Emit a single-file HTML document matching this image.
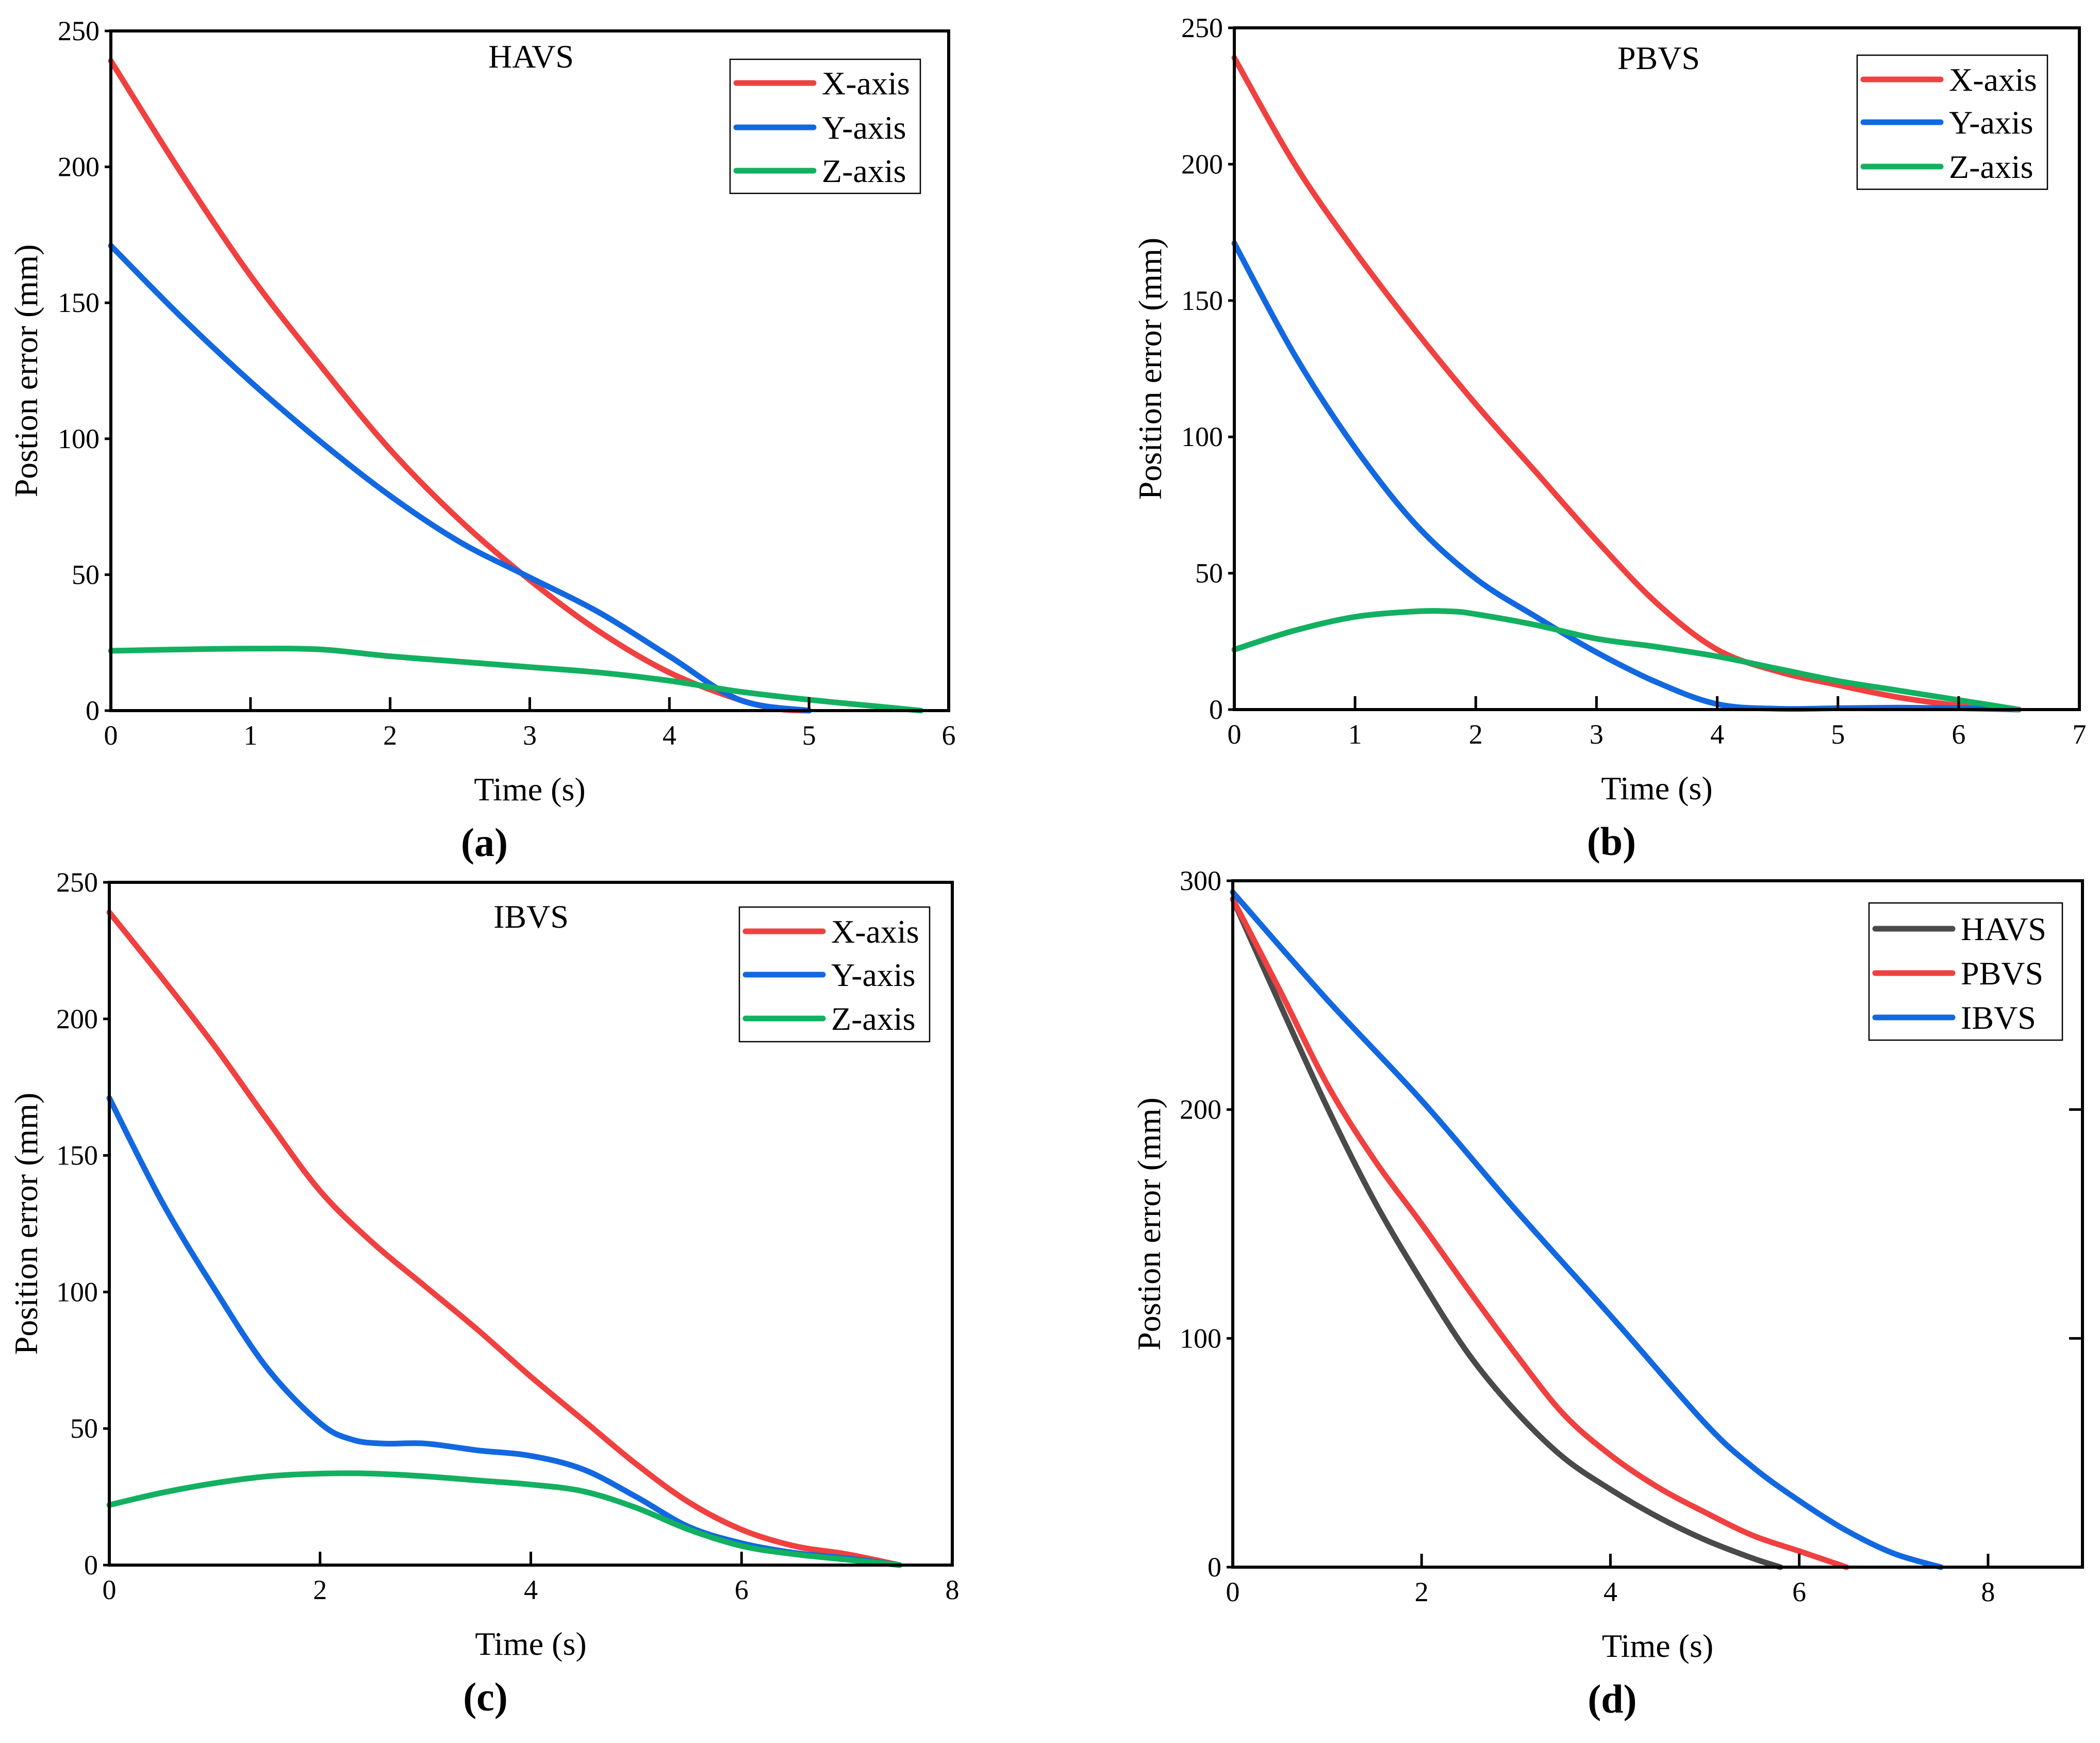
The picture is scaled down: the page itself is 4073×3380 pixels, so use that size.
<!DOCTYPE html>
<html><head><meta charset="utf-8"><style>
html,body{margin:0;padding:0;background:#fff}
svg{display:block}
text{font-family:"Liberation Serif",serif;fill:#000}
</style></head><body>
<svg id="fig" width="4073" height="3380" viewBox="0 0 4073 3380"></svg>
<script>
// ---- data ----
const aX_t=[0,0.5,1,1.5,2,2.5,3,3.5,4,4.5,4.8,5];
const aX_v=[239,198,160,127,96,70,48,29,14,4,0.5,0];
const aY_t=[0,0.5,1,1.5,2,2.5,3,3.5,4,4.5,5];
const aY_v=[171,145,121,99,79,62,49,36,20,4,0];
const aZ_t=[0,0.5,1,1.5,2,2.5,3,3.5,4,4.5,5,5.5,5.8];
const aZ_v=[22,22.5,22.8,22.5,20,18,16,14,11,7,4,1.5,0];

const bX_t=[0,0.5,1,1.5,2,2.5,3,3.5,4,4.5,5,5.5,6,6.3];
const bX_v=[239,200,168,139,112,87,62,39,22,14,9,4.5,1.5,0.5];
const bY_t=[0,0.5,1,1.5,2,2.5,3,3.5,4,4.5,5,5.5,6,6.5];
const bY_v=[171,130,96,68,48,34,21,10,2,0.3,0.5,0.7,0.5,0];
const bZ_t=[0,0.5,1,1.5,1.8,2,2.5,3,3.5,4,4.5,5,5.5,6,6.5];
const bZ_v=[22,29,34,36,36,35,31,26,23,19.5,15,10.5,7,3.5,0];

const cX_t=[0,0.5,1,1.5,2,2.5,3,3.5,4,4.5,5,5.5,6,6.5,7,7.5];
const cX_v=[239,215,190,163,137,118,102,86,69,53,37,23,13,7,4,0];
const cY_t=[0,0.5,1,1.5,2,2.3,2.6,3,3.5,4,4.5,5,5.5,6,6.5,7,7.5];
const cY_v=[171,133,101,72,52,46,44.5,44.5,42,40,35,25,14,8,4.5,2.5,0];
const cZ_t=[0,0.5,1,1.5,2,2.5,3,3.5,4,4.5,5,5.5,6,6.5,7,7.5];
const cZ_v=[22,26.5,30,32.5,33.5,33.5,32.5,31,29.5,27,21,13,7,4,2,0];

const dH_t=[0,0.5,1,1.5,2,2.5,3,3.5,4,4.5,5,5.5,5.8];
const dH_v=[292,246,201,160,125,93,68,48,34,22,12,4,0];
const dP_t=[0,0.5,1,1.5,2,2.5,3,3.5,4,4.5,5,5.5,6,6.5];
const dP_v=[292,252,211,178,150,121,93,67,49,35,24,14,7,0];
const dI_t=[0,1,2,3,4,5,5.5,6,6.5,7,7.5];
const dI_v=[295,248,204,156,110,63,44,29,16,6,0];

const ticksA_x=[0,1,2,3,4,5,6], ticksA_y=[0,50,100,150,200,250];
const ticksB_x=[0,1,2,3,4,5,6,7], ticksB_y=[0,50,100,150,200,250];
const ticksC_x=[0,2,4,6,8], ticksC_y=[0,50,100,150,200,250];
const ticksD_x=[0,2,4,6,8], ticksD_y=[0,100,200,300];

const RED='#f04040', BLUE='#1268e0', GREEN='#12b060', GRAY='#4a4a4a';
const NS='http://www.w3.org/2000/svg';
const svg=document.getElementById('fig');
function el(tag,attrs,parent){const e=document.createElementNS(NS,tag);for(const k in attrs)e.setAttribute(k,attrs[k]);(parent||svg).appendChild(e);return e;}
function smoothPath(pts){
  let d='M'+pts[0][0].toFixed(1)+','+pts[0][1].toFixed(1);
  for(let i=0;i<pts.length-1;i++){
    const p0=pts[i-1]||pts[i],p1=pts[i],p2=pts[i+1],p3=pts[i+2]||p2;
    const c1=[p1[0]+(p2[0]-p0[0])/6,p1[1]+(p2[1]-p0[1])/6];
    const c2=[p2[0]-(p3[0]-p1[0])/6,p2[1]-(p3[1]-p1[1])/6];
    d+=' C'+c1[0].toFixed(1)+','+c1[1].toFixed(1)+' '+c2[0].toFixed(1)+','+c2[1].toFixed(1)+' '+p2[0].toFixed(1)+','+p2[1].toFixed(1);
  }
  return d;
}
function panel(cfg){
  const g=el('g',{});
  
  
  const L=cfg.l,R=cfg.r,T=cfg.t,B=cfg.b;
  const sx=v=>L+(v-cfg.xmin)/(cfg.xmax-cfg.xmin)*(R-L);
  const sy=v=>B-(v-cfg.ymin)/(cfg.ymax-cfg.ymin)*(B-T);
  cfg.series.forEach(s=>{
    const pts=s.t.map((t,i)=>[sx(t),sy(s.v[i])]);
    const p=el('path',{d:smoothPath(pts),fill:'none',stroke:s.color,'stroke-width':11,'stroke-linejoin':'round','stroke-linecap':'round'},g);
    
    
  });
  const f=el('rect',{x:L,y:T,width:R-L,height:B-T,fill:'none',stroke:'#000','stroke-width':6},g);
  
  
  cfg.xt.forEach(v=>{
    const x=sx(v);
    if(v!==cfg.xmin&&v!==cfg.xmax) el('line',{x1:x,x2:x,y1:B,y2:B-26,stroke:'#000','stroke-width':5},g);
    const t=el('text',{x:x,y:B+66,'font-size':54,'text-anchor':'middle'},g);
    t.textContent=v;
    
    
  });
  cfg.yt.forEach(v=>{
    const y=sy(v);
    el('line',{x1:L,x2:L-12,y1:y,y2:y,stroke:'#000','stroke-width':5},g);
    if(cfg.rightTicks&&v!==cfg.ymin&&v!==cfg.ymax) el('line',{x1:R,x2:R-26,y1:y,y2:y,stroke:'#000','stroke-width':5},g);
    const t=el('text',{x:L-22,y:y+18,'font-size':54,'text-anchor':'end'},g);
    t.textContent=v;
    
    
  });
  const xt=el('text',{x:(L+R)/2,y:B+174,'font-size':64,'text-anchor':'middle'},g);
  xt.textContent='Time (s)';
  
  
  const ty=(T+B)/2;
  const yt=el('text',{x:cfg.ytx,y:ty,'font-size':64,'text-anchor':'middle',transform:'rotate(-90 '+cfg.ytx+' '+ty+')'},g);
  yt.textContent=cfg.ytitle;
  
  
  if(cfg.title){
    const tt=el('text',{x:cfg.title[1],y:cfg.title[2]+22,'font-size':64,'text-anchor':'middle'},g);
    tt.textContent=cfg.title[0];
    
    
  }
  const pl=el('text',{x:(L+R)/2-88,y:B+282,'font-size':78,'text-anchor':'middle','font-weight':'bold'},g);
  pl.textContent=cfg.label;
  
  
  const lg=cfg.legend;
  const lgG=el('g',{},g);
  
  
  el('rect',{x:lg.x1,y:lg.y1,width:lg.x2-lg.x1,height:lg.y2-lg.y1,fill:'#fff',stroke:'#000','stroke-width':2.5},lgG);
  cfg.series.forEach((s,i)=>{
    const y=lg.rows[i];
    const e=el('g',{},lgG);
    
    
    el('line',{x1:lg.x1+12,x2:lg.x1+162,y1:y,y2:y,stroke:s.color,'stroke-width':11,'stroke-linecap':'round'},e);
    const t=el('text',{x:lg.x1+178,y:y+22,'font-size':64},e);
    t.textContent=s.label;
  });
}
panel({name:'chart-a-havs',l:215,r:1840,t:60,b:1378,xmin:0,xmax:6,ymin:0,ymax:250,xt:ticksA_x,yt:ticksA_y,
  ytitle:'Postion error (mm)',ytx:72,title:['HAVS',1030,109],label:'(a)',
  legend:{x1:1416,x2:1785,y1:115,y2:375,rows:[161,247,331]},
  series:[{id:'x-axis',label:'X-axis',color:RED,t:aX_t,v:aX_v},{id:'y-axis',label:'Y-axis',color:BLUE,t:aY_t,v:aY_v},{id:'z-axis',label:'Z-axis',color:GREEN,t:aZ_t,v:aZ_v}]});
panel({name:'chart-b-pbvs',l:2394,r:4033,t:54,b:1376,xmin:0,xmax:7,ymin:0,ymax:250,xt:ticksB_x,yt:ticksB_y,
  ytitle:'Position error (mm)',ytx:2252,title:['PBVS',3217,112],label:'(b)',
  legend:{x1:3602,x2:3971,y1:107,y2:367,rows:[154,237,323]},
  series:[{id:'x-axis',label:'X-axis',color:RED,t:bX_t,v:bX_v},{id:'y-axis',label:'Y-axis',color:BLUE,t:bY_t,v:bY_v},{id:'z-axis',label:'Z-axis',color:GREEN,t:bZ_t,v:bZ_v}]});
panel({name:'chart-c-ibvs',l:212,r:1847,t:1711,b:3035,xmin:0,xmax:8,ymin:0,ymax:250,xt:ticksC_x,yt:ticksC_y,
  ytitle:'Position error (mm)',ytx:72,title:['IBVS',1030,1777],label:'(c)',
  legend:{x1:1434,x2:1803,y1:1759,y2:2020,rows:[1806,1890,1975]},
  series:[{id:'x-axis',label:'X-axis',color:RED,t:cX_t,v:cX_v},{id:'y-axis',label:'Y-axis',color:BLUE,t:cY_t,v:cY_v},{id:'z-axis',label:'Z-axis',color:GREEN,t:cZ_t,v:cZ_v}]});
panel({name:'chart-d-comparison',l:2391,r:4039,t:1708,b:3039,xmin:0,xmax:9,ymin:0,ymax:300,xt:ticksD_x,yt:ticksD_y,rightTicks:true,
  ytitle:'Postion error (mm)',ytx:2250,title:null,label:'(d)',
  legend:{x1:3625,x2:4000,y1:1751,y2:2017,rows:[1801,1887,1973]},
  series:[{id:'havs',label:'HAVS',color:GRAY,t:dH_t,v:dH_v},{id:'pbvs',label:'PBVS',color:RED,t:dP_t,v:dP_v},{id:'ibvs',label:'IBVS',color:BLUE,t:dI_t,v:dI_v}]});
</script>
</body></html>
